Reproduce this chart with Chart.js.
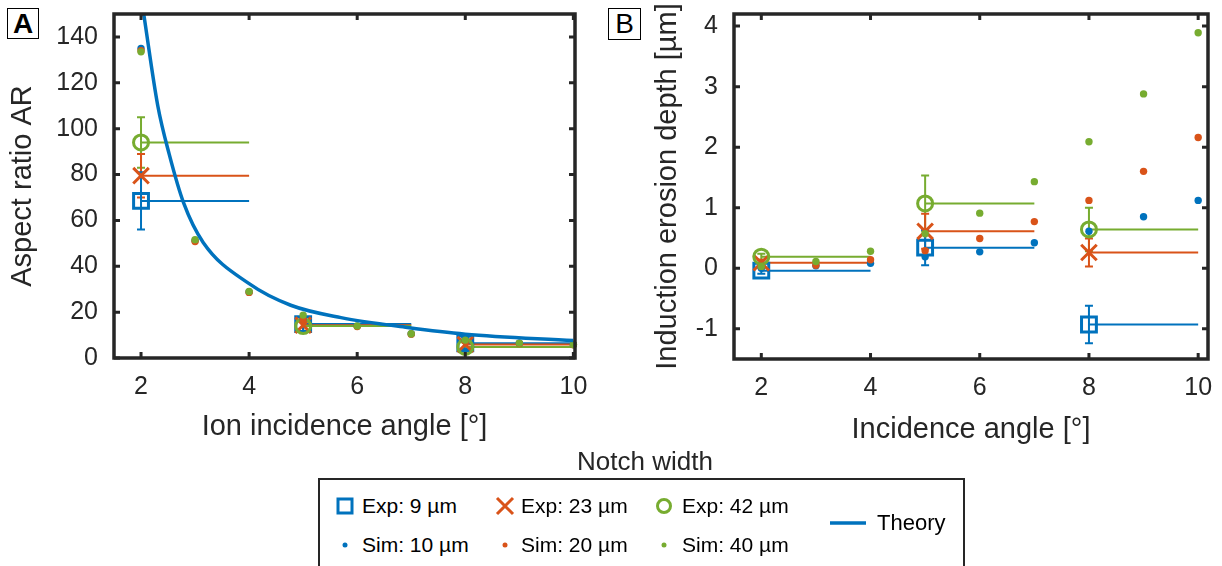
<!DOCTYPE html>
<html>
<head>
<meta charset="utf-8">
<title>Aspect ratio and induction erosion depth vs. ion incidence angle</title>
<script src="https://cdn.jsdelivr.net/npm/chart.js@4.4.1/dist/chart.umd.min.js"></script>
<style>
  body { margin: 0; background: #fff; }
  #page { position: relative; width: 1222px; height: 566px; overflow: hidden;
          font-family: "Liberation Sans", Arial, sans-serif; color: #262626; }
  canvas { position: absolute; top: 0; }
  #chartA { left: 0; }
  #chartB { left: 610px; }
  .tag { position: absolute; box-sizing: border-box; border: 1px solid #000; background: #fff;
         color: #000; font-size: 28px; line-height: 30px; text-align: center; }
  #legendTitle { position: absolute; left: 545px; width: 200px; top: 446px; text-align: center; font-size: 26px; }
  #legendBox { position: absolute; left: 318px; top: 478px; width: 647px; height: 110px;
               box-sizing: border-box; border: 2px solid #262626; }
  .item { position: absolute; display: flex; align-items: center; height: 24px;
          font-size: 21px; white-space: nowrap; color: #000; }
</style>
</head>
<body>
<div id="page">
  <canvas id="chartA" width="600" height="450"></canvas>
  <canvas id="chartB" width="612" height="450"></canvas>

  <div class="tag" style="left:7px; top:8px; width:32px; height:31px; font-weight:bold;">A</div>
  <div class="tag" style="left:608px; top:8px; width:33px; height:32px;">B</div>

  <div id="legendTitle">Notch width</div>
  <div id="legendBox"></div>

  <div class="item" style="left:335px; top:494px;">
    <svg width="20" height="20"><rect x="3" y="3" width="14" height="14" fill="none" stroke="#0072BD" stroke-width="3"/></svg>
    <span style="margin-left:7px;">Exp: 9 µm</span>
  </div>
  <div class="item" style="left:495px; top:494px;">
    <svg width="20" height="20"><path d="M2 2L18 18M18 2L2 18" stroke="#D95319" stroke-width="3"/></svg>
    <span style="margin-left:6px;">Exp: 23 µm</span>
  </div>
  <div class="item" style="left:654px; top:494px;">
    <svg width="20" height="20"><circle cx="10" cy="10" r="6.5" fill="none" stroke="#77AC30" stroke-width="3"/></svg>
    <span style="margin-left:8px;">Exp: 42 µm</span>
  </div>
  <div class="item" style="left:335px; top:533px;">
    <svg width="20" height="20"><circle cx="10" cy="10" r="2.5" fill="#0072BD"/></svg>
    <span style="margin-left:7px;">Sim: 10 µm</span>
  </div>
  <div class="item" style="left:495px; top:533px;">
    <svg width="20" height="20"><circle cx="10" cy="10" r="2.5" fill="#D95319"/></svg>
    <span style="margin-left:6px;">Sim: 20 µm</span>
  </div>
  <div class="item" style="left:654px; top:533px;">
    <svg width="20" height="20"><circle cx="10" cy="10" r="2.5" fill="#77AC30"/></svg>
    <span style="margin-left:8px;">Sim: 40 µm</span>
  </div>
  <div class="item" style="left:830px; top:511px; font-size:22px;">
    <svg width="36" height="20"><line x1="0" y1="10" x2="36" y2="10" stroke="#0072BD" stroke-width="3.5"/></svg>
    <span style="margin-left:11px;">Theory</span>
  </div>
</div>

<script>
// Shared x values
const simAngles = [2, 3, 4, 5, 6, 7, 8, 9, 10];
const expStart = [2, 5, 8];
const expEnd = [4, 7, 10];
const angleTicks = [2, 4, 6, 8, 10];

// Panel A: aspect ratio
const simA10 = [135, 51.2, 28.8, 17.0, 13.9, 10.6, 7.6, 6.4, 5.9];
const simA20 = [134, 50.8, 28.6, 16.8, 13.7, 10.4, 7.3, 6.3, 5.8];
const simA40 = [133.5, 51.6, 29.0, 18.7, 14.0, 10.6, 7.8, 6.5, 5.9];
const expA9 = [68.5, 14.8, 6.4];
const expA9Err = [12.5, 3.0, 2.5];
const expA23 = [79.5, 14.3, 5.9];
const expA23Err = [9.5, 3.2, 3.0];
const expA42 = [94, 13.9, 4.8];
const expA42Err = [11, 2.5, 2.0];
const theoryAngle = [2.05, 2.31, 2.52, 2.79, 3.15, 4.0, 4.77, 5.7, 6.93, 8.0, 10.0];
const theoryAR = [150, 110, 89, 67.5, 50.4, 32.4, 23.0, 17.6, 13.3, 10.4, 7.6];
const arTicks = [0, 20, 40, 60, 80, 100, 120, 140];

// Panel B: induction erosion depth [µm]
const simB10 = [0.0, 0.04, 0.08, 0.19, 0.27, 0.42, 0.61, 0.85, 1.12];
const simB20 = [0.03, 0.05, 0.14, 0.29, 0.49, 0.77, 1.12, 1.60, 2.16];
const simB40 = [0.03, 0.11, 0.28, 0.57, 0.91, 1.43, 2.09, 2.88, 3.89];
const expB9 = [-0.04, 0.34, -0.93];
const expB9Err = [0.05, 0.29, 0.31];
const expB23 = [0.09, 0.61, 0.26];
const expB23Err = [0.05, 0.29, 0.23];
const expB42 = [0.19, 1.07, 0.64];
const expB42Err = [0.05, 0.46, 0.36];
const depthTicks = [-1, 0, 1, 2, 3, 4];

const blue = '#0072BD', orange = '#D95319', green = '#77AC30', ink = '#262626';
const family = '"Liberation Sans", Arial, sans-serif';
const tickFont = { family, size: 25 };
const titleFont = { family, size: 29 };

// Error bars with caps, drawn under the markers
const errorBars = {
    id: 'errorBars',
    beforeDatasetsDraw(chart) {
        const { ctx, scales: { x, y } } = chart;
        chart.data.datasets.forEach(ds => {
            if (!ds.errors) return;
            ctx.save();
            ctx.strokeStyle = ds.borderColor;
            ctx.lineWidth = 2;
            ctx.beginPath();
            ds.data.forEach((p, i) => {
                const px = x.getPixelForValue(p.x);
                const top = y.getPixelForValue(p.y + ds.errors[i]);
                const bot = y.getPixelForValue(p.y - ds.errors[i]);
                ctx.moveTo(px, top); ctx.lineTo(px, bot);
                ctx.moveTo(px - 4, top); ctx.lineTo(px + 4, top);
                ctx.moveTo(px - 4, bot); ctx.lineTo(px + 4, bot);
            });
            ctx.stroke();
            ctx.restore();
        });
    }
};

// Box frame with inward ticks on all four sides
const frame = {
    id: 'frame',
    afterDraw(chart) {
        const { ctx, chartArea: a, scales: { x, y } } = chart;
        ctx.save();
        ctx.strokeStyle = ink;
        ctx.lineWidth = 3.5;
        ctx.strokeRect(a.left, a.top, a.right - a.left, a.bottom - a.top);
        ctx.lineWidth = 3;
        ctx.beginPath();
        x.ticks.forEach(t => {
            const px = x.getPixelForValue(t.value);
            ctx.moveTo(px, a.bottom); ctx.lineTo(px, a.bottom - 6);
            ctx.moveTo(px, a.top); ctx.lineTo(px, a.top + 6);
        });
        y.ticks.forEach(t => {
            const py = y.getPixelForValue(t.value);
            ctx.moveTo(a.left, py); ctx.lineTo(a.left + 6, py);
            ctx.moveTo(a.right, py); ctx.lineTo(a.right - 6, py);
        });
        ctx.stroke();
        ctx.restore();
    }
};

function simSet(vals, color) {
    return {
        data: simAngles.map((x, i) => ({ x, y: vals[i] })),
        pointStyle: 'circle', pointRadius: 3.7, pointBorderWidth: 0,
        backgroundColor: color, borderColor: color, showLine: false, clip: false
    };
}

function expSet(vals, errs, color, style, radius) {
    return {
        data: expStart.map((x, i) => ({ x, y: vals[i] })),
        errors: errs,
        pointStyle: style, pointRadius: radius, pointBorderWidth: 3,
        borderColor: color, backgroundColor: 'rgba(0,0,0,0)', showLine: false
    };
}

function rangeSet(vals, color) {
    const pts = [];
    expStart.forEach((s, i) => {
        pts.push({ x: s, y: vals[i] }, { x: expEnd[i], y: vals[i] }, { x: expEnd[i], y: null });
    });
    return { data: pts, showLine: true, pointRadius: 0, borderWidth: 2, borderColor: color, spanGaps: false };
}

function axes(opts) {
    return {
        x: {
            type: 'linear', min: opts.xMin, max: opts.xMax,
            afterBuildTicks: s => { s.ticks = angleTicks.map(v => ({ value: v })); },
            afterFit: s => { s.height = opts.xHeight; s.paddingLeft = 0; s.paddingRight = 0; },
            grid: { display: false, drawTicks: false },
            border: { display: false },
            ticks: { color: ink, font: tickFont, padding: 14, maxRotation: 0, autoSkip: false },
            title: { display: true, text: opts.xTitle, color: ink, font: titleFont, padding: { top: 0, bottom: opts.xTitlePad } }
        },
        y: {
            type: 'linear', min: opts.yMin, max: opts.yMax,
            afterBuildTicks: s => { s.ticks = opts.yTicks.map(v => ({ value: v })); },
            afterFit: s => { s.width = opts.yWidth; s.paddingTop = 0; s.paddingBottom = 0; },
            grid: { display: false, drawTicks: false },
            border: { display: false },
            ticks: { color: ink, font: tickFont, padding: 16, autoSkip: false, callback: v => String(v) },
            title: { display: true, text: opts.yTitle, color: ink, font: titleFont, padding: { top: opts.yTitlePad, bottom: 0 } }
        }
    };
}

function baseOptions(padding, scales) {
    return {
        responsive: false,
        animation: false,
        layout: { padding },
        plugins: { legend: { display: false }, tooltip: { enabled: false } },
        scales
    };
}

// Panel A
new Chart(document.getElementById('chartA'), {
    type: 'scatter',
    data: {
        datasets: [
            {
                data: theoryAngle.map((x, i) => ({ x, y: theoryAR[i] })),
                showLine: true, pointRadius: 0, borderWidth: 3.5, borderColor: blue,
                cubicInterpolationMode: 'monotone'
            },
            simSet(simA40, green), simSet(simA20, orange), simSet(simA10, blue),
            expSet(expA42, expA42Err, green, 'circle', 7.5),
            expSet(expA23, expA23Err, orange, 'crossRot', 11),
            expSet(expA9, expA9Err, blue, 'rect', 10.5),
            rangeSet(expA42, green), rangeSet(expA23, orange), rangeSet(expA9, blue)
        ]
    },
    options: baseOptions({ left: 0, top: 8, right: 25, bottom: 0 }, axes({
        xMin: 1.5, xMax: 10.03, yMin: 0, yMax: 150, yTicks: arTicks,
        xTitle: 'Ion incidence angle [°]', yTitle: 'Aspect ratio AR',
        xHeight: 92, yWidth: 114, xTitlePad: 6, yTitlePad: 6
    })),
    plugins: [errorBars, frame]
});

// Panel B
new Chart(document.getElementById('chartB'), {
    type: 'scatter',
    data: {
        datasets: [
            simSet(simB40, green), simSet(simB20, orange), simSet(simB10, blue),
            expSet(expB42, expB42Err, green, 'circle', 7.5),
            expSet(expB23, expB23Err, orange, 'crossRot', 11),
            expSet(expB9, expB9Err, blue, 'rect', 10.5),
            rangeSet(expB42, green), rangeSet(expB23, orange), rangeSet(expB9, blue)
        ]
    },
    options: baseOptions({ left: 0, top: 9, right: 14, bottom: 0 }, axes({
        xMin: 1.5, xMax: 10.18, yMin: -1.5, yMax: 4.2, yTicks: depthTicks,
        xTitle: 'Incidence angle [°]', yTitle: 'Induction erosion depth [µm]',
        xHeight: 91, yWidth: 124, xTitlePad: 3, yTitlePad: 41
    })),
    plugins: [errorBars, frame]
});
</script>
</body>
</html>
